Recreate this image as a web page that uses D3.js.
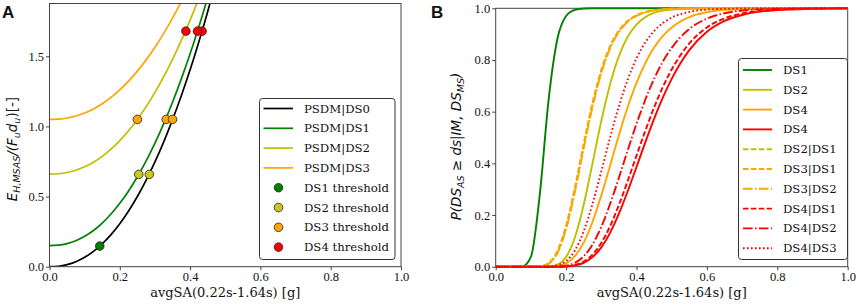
<!DOCTYPE html>
<html><head><meta charset="utf-8">
<script src="https://cdn.jsdelivr.net/npm/d3@7/dist/d3.min.js"></script>
<style>
html,body{margin:0;padding:0;background:#fff;}
svg{display:block;}
</style></head>
<body>
<svg id="chart" width="858" height="307"></svg>
<script>
// ---------- Panel A data ----------
const psdmX = [0,0.025,0.05,0.075,0.1,0.125,0.15,0.175,0.2,0.225,0.25,0.275,0.3,0.325,0.35,0.375,0.4,0.425,0.45,0.475];
const psdmDS0 = [0,0.0032,0.0147,0.0357,0.0671,0.1094,0.1632,0.2288,0.3068,0.3972,0.5005,0.617,0.7467,0.8902,1.048,1.2188,1.403,1.6034,1.8172,2.047];
const psdmDS1 = [0.15,0.1532,0.1647,0.1855,0.2165,0.2582,0.311,0.3753,0.4516,0.5399,0.6408,0.7541,0.8802,1.0197,1.1721,1.3386,1.5182,1.711,1.9188,2.14];
const psdmDS2 = [0.66,0.6625,0.6713,0.6875,0.7118,0.7447,0.7866,0.8377,0.8986,0.9692,1.05,1.141,1.2425,1.3549,1.478,1.6126,1.7571,1.914,2.082,2.262];
const psdmDS3 = [1.05,1.0522,1.0599,1.0743,1.0957,1.1247,1.1617,1.2067,1.2604,1.3226,1.3939,1.4742,1.5637,1.6628,1.7714,1.8901,2.0175,2.156,2.304,2.463];
const thrLevels = [0.147,0.658,1.05,1.679];
const thrDS1X = [0.143];
const thrDS2X = [0.254,0.284];
const thrDS3X = [0.250,0.332,0.350];
const thrDS4X = [0.388,0.434,0.421];
const xTicks = [0,0.2,0.4,0.6,0.8,1.0];
const yTicksA = [0,0.5,1.0,1.5];
const yTicksB = [0,0.2,0.4,0.6,0.8,1.0];
const legendA = ["PSDM|DS0","PSDM|DS1","PSDM|DS2","PSDM|DS3","DS1 threshold","DS2 threshold","DS3 threshold","DS4 threshold"];

// ---------- Panel B data ----------
const saGrid = [0,0.025,0.05,0.075,0.1,0.125,0.15,0.175,0.2,0.225,0.25,0.275,0.3,0.325,0.35,0.375,0.4,0.425,0.45,0.475,0.5,0.55,0.6,0.65,0.7,0.75,0.8,0.9,1.0];
const pDS1 = [0,0,0,0.0005,0.038,0.276,0.642,0.880,0.970,0.994,0.999,1,1,1,1,1,1,1,1,1,1,1,1,1,1,1,1,1,1];
const pDS2 = [0,0,0,0,0,0,0.0008,0.008,0.038,0.113,0.240,0.400,0.564,0.706,0.815,0.890,0.937,0.966,0.982,0.991,0.995,0.999,1,1,1,1,1,1,1];
const pDS3 = [0,0,0,0,0,0,0.0004,0.003,0.013,0.041,0.093,0.173,0.276,0.392,0.509,0.618,0.711,0.788,0.848,0.893,0.926,0.966,0.985,0.994,0.997,0.999,1,1,1];
const pDS4 = [0,0,0,0,0,0,0,0,0.001,0.005,0.015,0.037,0.075,0.131,0.205,0.292,0.386,0.481,0.572,0.655,0.727,0.838,0.909,0.951,0.974,0.987,0.9935,0.998,0.9996];
const pDS2gDS1 = [0,0,0,0,0,0.0012,0.012,0.055,0.151,0.297,0.466,0.626,0.755,0.849,0.911,0.950,0.972,0.985,0.992,0.996,0.998,0.9995,1,1,1,1,1,1,1];
const pDS3gDS1 = [0,0,0,0,0,0.0015,0.014,0.060,0.160,0.307,0.476,0.635,0.762,0.854,0.914,0.952,0.973,0.986,0.993,0.996,0.998,0.9995,1,1,1,1,1,1,1];
const pDS3gDS2 = [0,0,0,0,0,0.001,0.011,0.052,0.146,0.290,0.458,0.618,0.749,0.845,0.908,0.948,0.971,0.984,0.992,0.996,0.998,0.9995,1,1,1,1,1,1,1];
const pDS4gDS1 = [0,0,0,0,0,0,0,0,0.0016,0.0066,0.020,0.047,0.092,0.157,0.239,0.332,0.430,0.526,0.616,0.696,0.763,0.864,0.926,0.961,0.980,0.990,0.995,0.999,1];
const pDS4gDS2 = [0,0,0,0,0,0,0,0.0008,0.004,0.015,0.040,0.086,0.154,0.243,0.344,0.450,0.553,0.646,0.727,0.794,0.847,0.920,0.960,0.981,0.991,0.996,0.998,0.9996,1];
const pDS4gDS3 = [0,0,0,0,0,0,0.0006,0.005,0.022,0.063,0.137,0.243,0.369,0.5,0.621,0.724,0.806,0.868,0.912,0.943,0.964,0.986,0.995,0.998,0.9993,1,1,1,1];
const legendB = ["DS1","DS2","DS4","DS4","DS2|DS1","DS3|DS1","DS3|DS2","DS4|DS1","DS4|DS2","DS4|DS3"];

// ---------- styles ----------
const C = {green:"#008000", yel:"#bfbf00", orange:"#ffa500", red:"#ff0000", black:"#000"};
const serif = "'DejaVu Serif', serif";
const tickFont = "'Liberation Serif', serif";
const DASH = {solid:null, dashed:"5.5,2.4", dashdot:"9.6,2.4,1.5,2.4", dotted:"1.6,2.4"};

const svg = d3.select("#chart");

function frameAxes(g, x, y, yTicks, W, H){
  const xa = g.append("g").attr("transform",`translate(0,${H})`)
    .call(d3.axisBottom(x).tickValues(xTicks).tickFormat(d3.format(".1f")).tickSize(3.5).tickPadding(2));
  const ya = g.append("g")
    .call(d3.axisLeft(y).tickValues(yTicks).tickFormat(d3.format(".1f")).tickSize(3.5).tickPadding(2));
  [xa,ya].forEach(a=>{
    a.select(".domain").remove();
    a.selectAll(".tick line").attr("stroke","#444");
    a.selectAll(".tick text").attr("font-family",tickFont).attr("font-size","12.5px").attr("fill","#111");
  });
}

// ================= Panel A =================
{
  const L=49.5, T=3.5, W=351.5, H=263.2;
  const g = svg.append("g").attr("transform",`translate(${L},${T})`);
  const x = d3.scaleLinear().domain([0,1]).range([0,W]);
  const y = d3.scaleLinear().domain([0,1.876]).range([H,0]);
  g.append("defs").append("clipPath").attr("id","clipA").append("rect").attr("width",W).attr("height",H);
  const line = d3.line().x(d=>x(d[0])).y(d=>y(d[1])).curve(d3.curveMonotoneX);
  const series = [[psdmDS0,C.black],[psdmDS1,C.green],[psdmDS2,C.yel],[psdmDS3,C.orange]];
  const cg = g.append("g").attr("clip-path","url(#clipA)");
  series.forEach(([vals,col])=>{
    cg.append("path").attr("d",line(psdmX.map((xx,i)=>[xx,vals[i]])))
      .attr("fill","none").attr("stroke",col).attr("stroke-width",1.7);
  });
  const dots = [[thrDS1X,thrLevels[0],C.green],[thrDS2X,thrLevels[1],"#c8c81e"],[thrDS3X,thrLevels[2],C.orange],[thrDS4X,thrLevels[3],C.red]];
  dots.forEach(([xs,lv,col])=>{
    xs.forEach(xx=>{
      g.append("circle").attr("cx",x(xx)).attr("cy",y(lv)).attr("r",4.3)
        .attr("fill",col).attr("stroke","#222").attr("stroke-width",0.8);
    });
  });
  g.append("rect").attr("width",W).attr("height",H).attr("fill","none").attr("stroke","#444").attr("stroke-width",1);
  frameAxes(g,x,y,yTicksA,W,H);
  g.append("text").attr("x",W/2).attr("y",H+30).attr("text-anchor","middle")
    .attr("font-family",serif).attr("font-size","13px").attr("fill","#111").text("avgSA(0.22s-1.64s) [g]");
  const yt = svg.append("text").attr("transform",`translate(17,${T+H/2+14}) rotate(-90)`).attr("text-anchor","middle")
    .attr("font-family","'DejaVu Sans', sans-serif").attr("font-size","13.5px").attr("fill","#111").attr("font-style","italic");
  yt.append("tspan").text("E");
  yt.append("tspan").attr("font-size","9.5px").attr("dy",3).text("H,MSAS");
  yt.append("tspan").attr("dy",-3).text("/(F");
  yt.append("tspan").attr("font-size","9.5px").attr("dy",3).text("u");
  yt.append("tspan").attr("dy",-3).text("d");
  yt.append("tspan").attr("font-size","9.5px").attr("dy",3).text("u");
  yt.append("tspan").attr("dy",-3).attr("font-style","normal").text(")[-]");
  const lg = svg.append("g").attr("transform","translate(259.5,98.5)");
  lg.append("rect").attr("width",135.5).attr("height",161).attr("rx",3).attr("fill","#fff").attr("stroke","#333").attr("stroke-width",1);
  const lcols = [C.black,C.green,C.yel,C.orange,C.green,"#c8c81e",C.orange,C.red];
  legendA.forEach((t,i)=>{
    const yy = 10 + i*19.8;
    if(i<4){
      lg.append("line").attr("x1",4).attr("x2",33.5).attr("y1",yy).attr("y2",yy).attr("stroke",lcols[i]).attr("stroke-width",1.7);
    } else {
      lg.append("circle").attr("cx",19).attr("cy",yy).attr("r",4.3).attr("fill",lcols[i]).attr("stroke","#222").attr("stroke-width",0.8);
    }
    lg.append("text").attr("x",44.5).attr("y",yy+4).attr("font-family",serif).attr("font-size","11.7px").attr("fill","#111").text(t);
  });
  svg.append("text").attr("x",2).attr("y",18).attr("font-family","'Liberation Sans', Arial, sans-serif")
    .attr("font-weight","bold").attr("font-size","17px").attr("fill","#111").text("A");
}

// ================= Panel B =================
{
  const L=495.7, T=8.3, W=352, H=258.4;
  const g = svg.append("g").attr("transform",`translate(${L},${T})`);
  const x = d3.scaleLinear().domain([0,1]).range([0,W]);
  const y = d3.scaleLinear().domain([0,1]).range([H,0]);
  const line = d3.line().x(d=>x(d[0])).y(d=>y(d[1])).curve(d3.curveMonotoneX);
  const series = [
    [pDS1,C.green,"solid"],[pDS2,C.yel,"solid"],[pDS3,C.orange,"solid"],[pDS4,C.red,"solid"],
    [pDS2gDS1,C.yel,"dashed"],[pDS3gDS1,C.orange,"dashed"],[pDS3gDS2,C.orange,"dashdot"],
    [pDS4gDS1,C.red,"dashed"],[pDS4gDS2,C.red,"dashdot"],[pDS4gDS3,C.red,"dotted"]
  ];
  g.append("rect").attr("width",W).attr("height",H).attr("fill","none").attr("stroke","#444").attr("stroke-width",1);
  series.forEach(([vals,col,st])=>{
    g.append("path").attr("d",line(saGrid.map((xx,i)=>[xx,vals[i]])))
      .attr("fill","none").attr("stroke",col).attr("stroke-width",1.9)
      .attr("stroke-dasharray",DASH[st]);
  });
  frameAxes(g,x,y,yTicksB,W,H);
  g.append("text").attr("x",W/2).attr("y",H+30).attr("text-anchor","middle")
    .attr("font-family",serif).attr("font-size","13px").attr("fill","#111").text("avgSA(0.22s-1.64s) [g]");
  const yt = svg.append("text").attr("transform",`translate(461,${T+H/2+9}) rotate(-90)`).attr("text-anchor","middle")
    .attr("font-family","'DejaVu Sans', sans-serif").attr("font-size","13.5px").attr("fill","#111").attr("font-style","italic");
  yt.append("tspan").text("P(DS");
  yt.append("tspan").attr("font-size","9.5px").attr("dy",3).text("AS");
  yt.append("tspan").attr("dy",-3).text(" ≥ ds|IM, DS");
  yt.append("tspan").attr("font-size","9.5px").attr("dy",3).text("MS");
  yt.append("tspan").attr("dy",-3).text(")");
  const lg = svg.append("g").attr("transform","translate(738.5,58.5)");
  lg.append("rect").attr("width",109).attr("height",201).attr("rx",3).attr("fill","#fff").attr("stroke","#333").attr("stroke-width",1);
  series.forEach(([vals,col,st],i)=>{
    const yy = 11.5 + i*19.8;
    lg.append("line").attr("x1",4.5).attr("x2",33.5).attr("y1",yy).attr("y2",yy).attr("stroke",col).attr("stroke-width",1.9).attr("stroke-dasharray",DASH[st]);
    lg.append("text").attr("x",44.5).attr("y",yy+4).attr("font-family",serif).attr("font-size","11.7px").attr("fill","#111").text(legendB[i]);
  });
  svg.append("text").attr("x",431).attr("y",18).attr("font-family","'Liberation Sans', Arial, sans-serif")
    .attr("font-weight","bold").attr("font-size","17px").attr("fill","#111").text("B");
}
</script>
</body></html>
